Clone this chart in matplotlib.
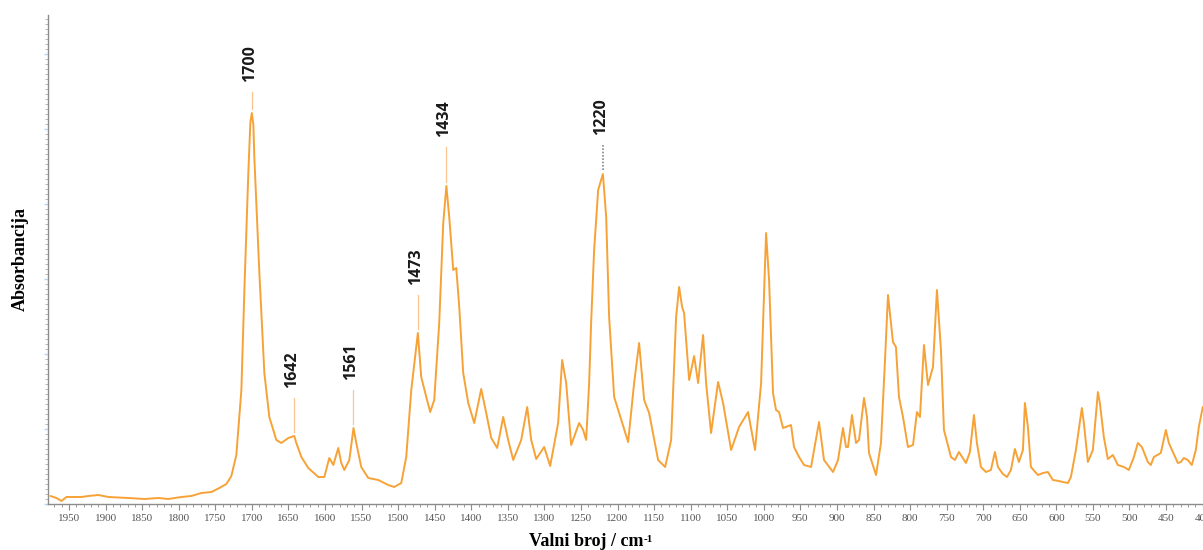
import numpy as np
import matplotlib
matplotlib.use("Agg")
import matplotlib.pyplot as plt
from matplotlib.ticker import MultipleLocator, NullFormatter

# FTIR spectrum (wavenumber / cm-1, absorbance in arbitrary units)
wavenumber = [
    1975.3, 1967.1, 1960.3, 1953.5, 1933.0, 1923.4, 1909.7, 1896.1, 1868.7, 1846.9,
    1827.8, 1814.1, 1796.3, 1782.7, 1769.0, 1755.3, 1744.4, 1734.8, 1728.0, 1721.2,
    1714.3, 1710.2, 1704.8, 1702.0, 1700.0, 1697.9, 1696.6, 1689.7, 1682.9, 1676.1,
    1666.5, 1659.7, 1650.1, 1642.0, 1639.2, 1632.3, 1622.8, 1609.1, 1600.9, 1594.1,
    1588.6, 1581.8, 1577.7, 1573.6, 1566.7, 1561.0, 1557.2, 1550.4, 1540.8, 1527.1,
    1513.5, 1505.3, 1495.7, 1488.9, 1482.0, 1473.0, 1468.4, 1461.5, 1456.1, 1450.6,
    1443.8, 1438.3, 1434.0, 1430.1, 1424.6, 1420.5, 1416.4, 1411.0, 1404.1, 1395.9,
    1386.4, 1379.5, 1372.7, 1364.5, 1356.3, 1349.5, 1342.6, 1331.7, 1323.5, 1318.0,
    1311.2, 1300.3, 1292.1, 1281.2, 1275.7, 1270.2, 1263.4, 1252.5, 1247.0, 1242.9,
    1238.8, 1236.1, 1232.0, 1226.5, 1220.0, 1215.5, 1211.5, 1204.6, 1197.8, 1185.5,
    1177.3, 1170.5, 1163.6, 1156.8, 1144.5, 1134.9, 1126.7, 1119.9, 1115.8, 1111.7,
    1109.0, 1102.1, 1095.3, 1089.8, 1083.0, 1078.9, 1072.1, 1062.5, 1055.7, 1044.7,
    1033.8, 1021.5, 1012.0, 1003.7, 996.9, 992.8, 987.4, 983.3, 979.2, 973.7,
    962.8, 958.7, 951.8, 945.0, 935.4, 931.3, 924.5, 917.7, 905.4, 898.5,
    891.7, 887.6, 884.9, 879.4, 873.9, 869.8, 863.0, 858.9, 856.2, 846.6,
    839.8, 834.3, 830.2, 823.4, 819.3, 815.2, 809.7, 802.9, 796.0, 790.6,
    786.5, 781.0, 775.5, 768.7, 763.3, 757.8, 753.7, 744.1, 738.7, 733.2,
    723.6, 718.2, 712.7, 708.6, 703.1, 696.3, 689.5, 684.0, 679.9, 673.1,
    667.6, 662.1, 656.7, 651.2, 645.7, 643.0, 638.9, 634.8, 625.2, 618.4,
    611.6, 604.7, 596.5, 591.1, 584.2, 580.1, 573.3, 565.1, 562.4, 556.9,
    550.1, 543.2, 540.5, 535.1, 529.6, 522.7, 515.9, 507.7, 500.9, 494.0,
    488.6, 483.1, 474.9, 470.8, 466.7, 457.2, 450.3, 446.2, 440.7, 433.9,
    429.8, 425.7, 420.3, 414.8, 409.3, 405.2, 399.8,
]
absorbance = [
    0.08, 0.06, 0.03, 0.07, 0.07, 0.08, 0.09, 0.07, 0.06, 0.05,
    0.06, 0.05, 0.07, 0.08, 0.11, 0.12, 0.16, 0.20, 0.28, 0.49,
    1.14, 2.14, 3.31, 3.82, 3.91, 3.79, 3.47, 2.31, 1.31, 0.87,
    0.64, 0.61, 0.66, 0.68, 0.61, 0.47, 0.36, 0.27, 0.27, 0.46,
    0.39, 0.56, 0.41, 0.34, 0.44, 0.76, 0.61, 0.37, 0.26, 0.24,
    0.19, 0.17, 0.21, 0.47, 1.14, 1.71, 1.27, 1.07, 0.92, 1.04,
    1.81, 2.81, 3.18, 2.87, 2.34, 2.36, 1.97, 1.31, 1.01, 0.81,
    1.15, 0.91, 0.66, 0.56, 0.87, 0.64, 0.44, 0.64, 0.97, 0.64,
    0.45, 0.57, 0.38, 0.81, 1.44, 1.21, 0.59, 0.81, 0.74, 0.64,
    1.21, 1.81, 2.54, 3.14, 3.30, 2.87, 1.87, 1.07, 0.91, 0.62,
    1.21, 1.61, 1.04, 0.91, 0.44, 0.37, 0.64, 1.87, 2.17, 1.97,
    1.91, 1.24, 1.48, 1.21, 1.69, 1.21, 0.71, 1.22, 1.01, 0.54,
    0.77, 0.92, 0.54, 1.21, 2.71, 2.24, 1.11, 0.94, 0.92, 0.76,
    0.79, 0.57, 0.47, 0.39, 0.37, 0.54, 0.82, 0.44, 0.32, 0.44,
    0.76, 0.57, 0.57, 0.89, 0.61, 0.64, 1.06, 0.87, 0.51, 0.29,
    0.61, 1.44, 2.09, 1.62, 1.57, 1.07, 0.87, 0.57, 0.59, 0.92,
    0.87, 1.59, 1.19, 1.37, 2.14, 1.54, 0.74, 0.47, 0.44, 0.52,
    0.41, 0.52, 0.89, 0.61, 0.37, 0.32, 0.34, 0.52, 0.37, 0.30,
    0.27, 0.34, 0.55, 0.42, 0.54, 1.01, 0.77, 0.37, 0.29, 0.31,
    0.32, 0.24, 0.23, 0.22, 0.21, 0.27, 0.54, 0.96, 0.81, 0.42,
    0.54, 1.12, 1.01, 0.67, 0.45, 0.49, 0.39, 0.37, 0.34, 0.47,
    0.61, 0.57, 0.42, 0.39, 0.47, 0.51, 0.74, 0.61, 0.52, 0.41,
    0.42, 0.46, 0.44, 0.39, 0.54, 0.77, 0.97,
]

# labelled bands
peak_labels = [1700, 1642, 1561, 1473, 1434, 1220]
label_gap = [0.31, 0.48, 0.48, 0.48, 0.49, 0.39]

line_color = "#F7A236"
serif = ["Liberation Serif", "DejaVu Serif"]

fig = plt.figure(figsize=(12.03, 5.5), dpi=100)
ax = fig.add_axes([48 / 1203, 46 / 550, 1155 / 1203, 489 / 550])

ax.plot(wavenumber, absorbance, color=line_color, lw=1.4,
        solid_joinstyle="round", solid_capstyle="round")

ax.set_xlim(1978.7, 399.5)
ax.set_ylim(0, 4.89)

# peak markers with vertical wavenumber labels
wn_sorted = np.array(wavenumber)[::-1]
ab_sorted = np.array(absorbance)[::-1]
for wn, gap in zip(peak_labels, label_gap):
    top = np.interp(wn, wn_sorted, ab_sorted)
    if wn == 1220:
        ax.plot([wn, wn], [top + 0.04, top + gap - 0.1], color="#8a8a8a",
                lw=1.2, ls=(0, (1, 1)))
    else:
        ax.plot([wn, wn], [top + 0.04, top + gap - 0.1], color="#FAC590", lw=0.9)
    ax.text(wn + 3, top + gap, str(wn), rotation=90, ha="center", va="bottom",
            fontsize=11.5, fontweight="bold", family=["Open Sans", "DejaVu Sans"],
            color="#1a1a1a")

for side in ("top", "right"):
    ax.spines[side].set_visible(False)
for side in ("left", "bottom"):
    ax.spines[side].set_color("#8c8c8c")
    ax.spines[side].set_linewidth(1.0)

ax.xaxis.set_major_locator(MultipleLocator(50))
ax.xaxis.set_minor_locator(MultipleLocator(10))
ax.tick_params(axis="x", which="major", length=4, width=0.8, color="#8c8c8c",
               labelsize=8, labelcolor="#555555", pad=3)
ax.tick_params(axis="x", which="minor", length=2.5, width=0.6, color="#8c8c8c")
for lab in ax.get_xticklabels():
    lab.set_family(serif)

ax.yaxis.set_major_locator(MultipleLocator(0.75))
ax.yaxis.set_minor_locator(MultipleLocator(0.05))
ax.yaxis.set_major_formatter(NullFormatter())
ax.tick_params(axis="y", which="major", length=3, width=1.0, color="#b9d3ee")
ax.tick_params(axis="y", which="minor", length=2, width=0.5, color="#9a9a9a")

fig.text(20 / 1203, 1 - 259 / 550, "Absorbancija", rotation=90, ha="center",
         va="center", fontsize=13, fontweight="bold", family=serif)

# x axis title with a small superscript placed right after it
xt = fig.text(586 / 1203, 1 - 541 / 550, "Valni broj / cm", ha="center",
              va="center", fontsize=13, fontweight="bold", family=serif)
fig.canvas.draw()
bb = xt.get_window_extent().transformed(fig.transFigure.inverted())
fig.text(bb.x1 + 0.0005, bb.y1 - 0.004, "-1", ha="left", va="top",
         fontsize=8, fontweight="bold", family=serif)

fig.savefig("out.png", dpi=100, facecolor="white")
